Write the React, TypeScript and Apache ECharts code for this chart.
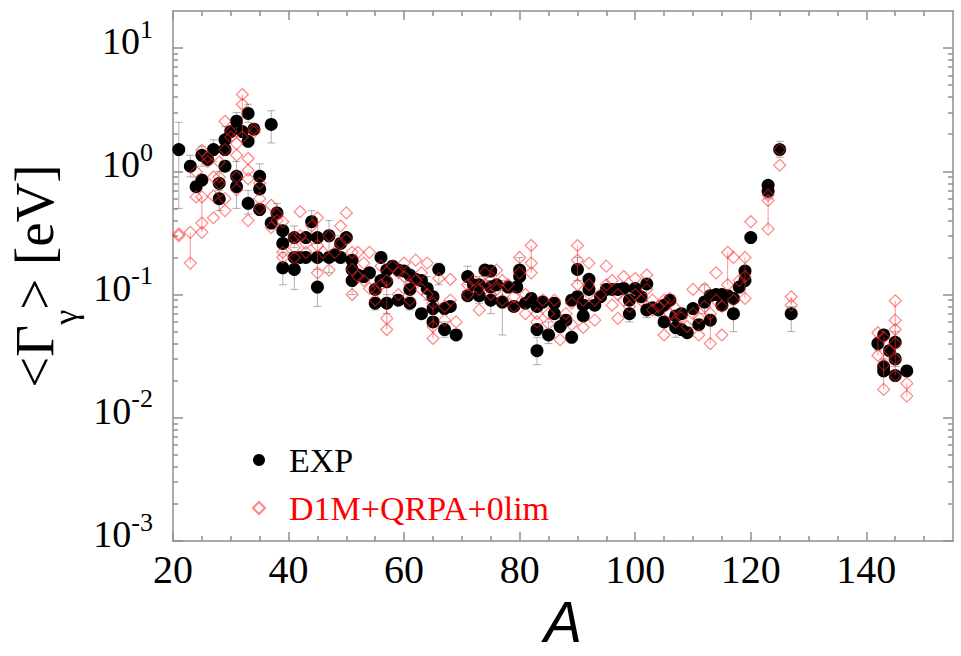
import React, { useEffect, useRef } from 'react';
import * as echarts from 'echarts';

// ---- axis tick positions ----
const xMajorTicks = [20, 40, 60, 80, 100, 120, 140];
const xMinorTicks = [25, 30, 35, 45, 50, 55, 65, 70, 75, 85, 90, 95, 105, 110, 115, 125, 130, 135, 145, 150];
const yDecades = [0.001, 0.01, 0.1, 1, 10];
const yMinorMultipliers = [2, 3, 4, 5, 6, 7, 8, 9];

// ---- EXP: [A, <Gamma_gamma> eV] ----
const expPoints: number[][] = [
  [21, 1.5], [23, 1.1], [24, 0.75], [25, 0.85], [25, 1.35], [26, 1.25], [27, 1.5], [28, 0.8], [28, 0.6],
  [29, 1.8], [29, 1.5], [29, 1.1], [30, 2.1], [31, 2.55], [31, 0.91], [31, 0.75], [32, 2.1], [33, 2.95],
  [33, 1.75], [33, 0.55], [34, 2.2], [35, 0.91], [35, 0.72], [35, 0.49], [37, 2.4], [37, 0.38], [38, 0.46],
  [39, 0.33], [39, 0.26], [39, 0.165], [41, 0.29], [41, 0.2], [41, 0.16], [42, 0.2], [43, 0.29], [43, 0.2],
  [44, 0.39], [45, 0.29], [45, 0.2], [45, 0.115], [47, 0.3], [47, 0.2], [48, 0.21], [49, 0.26], [49, 0.2],
  [50, 0.29], [51, 0.19], [51, 0.16], [51, 0.13], [52, 0.144], [53, 0.14], [54, 0.15], [55, 0.11], [55, 0.085],
  [56, 0.2], [56, 0.13], [57, 0.158], [57, 0.127], [57, 0.085], [58, 0.17], [59, 0.158], [59, 0.09], [60, 0.155],
  [61, 0.144], [61, 0.11], [61, 0.085], [62, 0.133], [63, 0.13], [63, 0.07], [64, 0.112], [65, 0.096], [65, 0.077],
  [65, 0.06], [66, 0.16], [67, 0.077], [67, 0.052], [68, 0.08], [69, 0.047], [71, 0.14], [71, 0.098], [72, 0.12],
  [73, 0.12], [73, 0.098], [74, 0.158], [75, 0.155], [75, 0.115], [75, 0.09], [76, 0.12], [77, 0.087], [78, 0.115],
  [79, 0.08], [79.5, 0.115], [80, 0.158], [80, 0.14], [81, 0.085], [82, 0.093], [83, 0.08], [83, 0.052], [83, 0.035],
  [84, 0.087], [85, 0.047], [86, 0.085], [86, 0.07], [87, 0.055], [88, 0.062], [89, 0.09], [89, 0.045], [90, 0.16],
  [90, 0.096], [91, 0.082], [91, 0.067], [92, 0.133], [92, 0.11], [93, 0.082], [94, 0.096], [95, 0.11], [96, 0.11],
  [97, 0.11], [98, 0.112], [99, 0.09], [99, 0.07], [100, 0.112], [101, 0.096], [102, 0.122], [102, 0.075], [103, 0.078],
  [104, 0.075], [105, 0.082], [105, 0.06], [106, 0.09], [107, 0.067], [107, 0.054], [108, 0.07], [108, 0.052],
  [109, 0.049], [110, 0.077], [111, 0.057], [112, 0.087], [113, 0.098], [113, 0.062], [114, 0.1], [115, 0.1],
  [115, 0.082], [116, 0.098], [117, 0.07], [117, 0.093], [118, 0.115], [119, 0.155], [119, 0.13], [120, 0.29],
  [123, 0.77], [123, 0.69], [125, 1.5], [127, 0.07], [142, 0.04], [143, 0.047], [143, 0.026], [143, 0.024],
  [144, 0.035], [145, 0.041], [145, 0.03], [145, 0.022], [147, 0.024],
];

// ---- EXP error bars: [A, low, high] ----
const expErrors: number[][] = [
  [21, 0.5, 2.5], [23, 0.9, 1.35], [25, 1.1, 1.6], [27, 1.2, 1.8], [28, 0.65, 1.0], [28, 0.48, 0.7], [29, 1.4, 2.3],
  [31, 2.1, 3.0], [31, 0.5, 1.2], [33, 2.5, 3.5], [33, 0.45, 0.7], [35, 0.75, 1.15], [37, 1.7, 3.1], [38, 0.37, 0.55],
  [39, 0.12, 0.22], [41, 0.24, 0.36], [41, 0.11, 0.2], [44, 0.3, 0.48], [45, 0.08, 0.16], [47, 0.15, 0.4],
  [49, 0.18, 0.3], [51, 0.1, 0.16], [55, 0.075, 0.14], [57, 0.07, 0.1], [61, 0.075, 0.14], [64, 0.09, 0.14],
  [66, 0.12, 0.18], [67, 0.045, 0.06], [71, 0.12, 0.17], [73, 0.085, 0.14], [75, 0.07, 0.13], [77, 0.047, 0.13],
  [80, 0.13, 0.2], [83, 0.027, 0.045], [85, 0.04, 0.06], [90, 0.13, 0.2], [92, 0.09, 0.14], [99, 0.06, 0.12],
  [102, 0.065, 0.13], [107, 0.045, 0.07], [112, 0.07, 0.12], [117, 0.05, 0.1], [123, 0.6, 0.8], [125, 1.3, 1.75],
  [127, 0.05, 0.08], [142, 0.035, 0.045], [143, 0.022, 0.03], [145, 0.026, 0.05],
];

// ---- D1M+QRPA+0lim: [A, <Gamma_gamma> eV] ----
const theoryPoints: number[][] = [
  [21, 0.31], [21, 0.3], [23, 0.32], [23, 0.18], [24, 0.99], [24, 0.62], [25, 1.48], [25, 0.62], [25, 0.38],
  [25, 0.32], [26, 1.3], [26, 1.2], [27, 0.9], [27, 0.63], [27, 0.42], [28, 1.19], [28, 0.9], [28, 0.8],
  [29, 2.55], [29, 1.5], [29, 0.6], [29, 0.48], [30, 1.9], [30, 2.1], [31, 1.68], [31, 1.35], [31, 0.71], [31, 0.9],
  [32, 4.2], [32, 3.5], [32, 1.9], [33, 1.27], [33, 1.02], [33, 0.87], [33, 0.4], [34, 2.08], [34, 2.2],
  [35, 0.8], [35, 0.6], [35, 0.5], [37, 0.53], [37, 0.35], [38, 0.45], [38, 0.4], [39, 0.39], [39, 0.22], [39, 0.2],
  [41, 0.29], [41, 0.24], [41, 0.2], [42, 0.47], [42, 0.3], [43, 0.26], [43, 0.22], [44, 0.36], [45, 0.42],
  [45, 0.25], [45, 0.15], [46, 0.22], [47, 0.3], [47, 0.158], [48, 0.22], [49, 0.36], [49, 0.26], [50, 0.46],
  [50, 0.28], [51, 0.22], [51, 0.1], [51, 0.16], [52, 0.22], [52, 0.14], [53, 0.18], [53, 0.13], [54, 0.22],
  [54, 0.112], [55, 0.11], [55, 0.09], [56, 0.12], [56, 0.17], [57, 0.064], [57, 0.052], [57, 0.13], [58, 0.17],
  [59, 0.15], [59, 0.1], [60, 0.18], [60, 0.14], [61, 0.12], [61, 0.09], [62, 0.19], [62, 0.13], [63, 0.15],
  [63, 0.11], [64, 0.18], [64, 0.1], [65, 0.055], [65, 0.044], [65, 0.085], [66, 0.135], [67, 0.062], [67, 0.08],
  [68, 0.133], [68, 0.09], [69, 0.06], [71, 0.12], [71, 0.1], [72, 0.13], [73, 0.075], [73, 0.11], [74, 0.15],
  [74, 0.12], [75, 0.13], [75, 0.1], [76, 0.158], [76, 0.11], [77, 0.13], [77, 0.09], [78, 0.12], [79, 0.096],
  [79, 0.08], [80, 0.2], [80, 0.15], [81, 0.07], [81, 0.1], [82, 0.25], [82, 0.18], [82, 0.15], [83, 0.07],
  [83, 0.06], [84, 0.09], [85, 0.058], [85, 0.07], [86, 0.09], [87, 0.043], [88, 0.07], [89, 0.057], [89, 0.085],
  [90, 0.25], [90, 0.19], [90, 0.12], [91, 0.054], [91, 0.09], [92, 0.18], [92, 0.12], [93, 0.062], [93, 0.09],
  [94, 0.1], [95, 0.17], [95, 0.12], [96, 0.082], [96, 0.13], [97, 0.064], [97, 0.1], [98, 0.14], [98, 0.09],
  [99, 0.08], [100, 0.135], [100, 0.1], [101, 0.09], [102, 0.144], [102, 0.11], [103, 0.09], [103, 0.075],
  [104, 0.08], [105, 0.047], [105, 0.09], [106, 0.093], [106, 0.07], [107, 0.077], [107, 0.06], [108, 0.065],
  [109, 0.055], [110, 0.11], [110, 0.07], [111, 0.047], [111, 0.065], [112, 0.112], [112, 0.08], [113, 0.04],
  [113, 0.07], [114, 0.15], [114, 0.09], [115, 0.047], [115, 0.08], [116, 0.22], [116, 0.12], [117, 0.2],
  [117, 0.09], [118, 0.13], [119, 0.2], [119, 0.093], [119, 0.14], [120, 0.39], [123, 0.64], [123, 0.58],
  [123, 0.34], [125, 1.12], [125, 1.5], [127, 0.096], [127, 0.082], [142, 0.049], [142, 0.032], [143, 0.027],
  [143, 0.017], [143, 0.045], [144, 0.035], [145, 0.089], [145, 0.062], [145, 0.052], [145, 0.03], [145, 0.022],
  [145, 0.04], [147, 0.019], [147, 0.015],
];

// ---- D1M range lines: [A, low, high] ----
const theoryRanges: number[][] = [
  [23, 0.18, 0.32], [25, 0.32, 0.62], [32, 1.9, 4.2], [45, 0.15, 0.42], [57, 0.052, 0.13], [65, 0.044, 0.085],
  [82, 0.15, 0.25], [90, 0.12, 0.25], [113, 0.04, 0.07], [116, 0.12, 0.22], [119, 0.093, 0.2], [123, 0.34, 0.64],
  [127, 0.082, 0.096], [142, 0.032, 0.049], [143, 0.017, 0.045], [145, 0.022, 0.089], [147, 0.015, 0.019],
];

const SERIF = '"Liberation Serif", "Times New Roman", serif';
const AXIS_GREY = '#8f8f8f';

const yMinorTicks: number[] = [];
yDecades.forEach((d) => yMinorMultipliers.forEach((m) => { if (d * m < 20) yMinorTicks.push(d * m); }));

const makeBarRenderer = (color: string, cap: number) => (_params: any, api: any) => {
  const a = api.value(0);
  const lo = api.value(1);
  const hi = api.value(2);
  const p1 = api.coord([a, lo]);
  const p2 = api.coord([a, hi]);
  const style = { stroke: color, lineWidth: 1 };
  const children: any[] = [
    { type: 'line', shape: { x1: p1[0], y1: p1[1], x2: p2[0], y2: p2[1] }, style },
  ];
  if (cap > 0) {
    children.push({ type: 'line', shape: { x1: p1[0] - cap, y1: p1[1], x2: p1[0] + cap, y2: p1[1] }, style });
    children.push({ type: 'line', shape: { x1: p2[0] - cap, y1: p2[1], x2: p2[0] + cap, y2: p2[1] }, style });
  }
  return { type: 'group', children };
};

export default function App() {
  const ref = useRef<HTMLDivElement>(null);
  useEffect(() => {
    if (!ref.current) return;
    const chart = echarts.init(ref.current, null, { renderer: 'svg' });
    const xBase = { type: 'value', min: 20, max: 155, splitLine: { show: false } };
    const yBase = { type: 'log', logBase: 10, min: 0.001, max: 20, splitLine: { show: false } };
    const lineStyle = { color: AXIS_GREY, width: 1.5 };
    const option: any = {
      animation: false,
      backgroundColor: '#fff',
      grid: { left: 173, right: 8, top: 11, bottom: 115, containLabel: false, outerBoundsMode: 'none' },
      legend: {
        orient: 'vertical',
        left: 247,
        top: 438,
        itemWidth: 12,
        itemHeight: 12,
        itemGap: 14,
        selectedMode: false,
        data: [
          { name: 'EXP', textStyle: { color: '#000' } },
          { name: 'D1M+QRPA+0lim', textStyle: { color: '#ff0000' } },
        ],
        textStyle: { fontFamily: SERIF, fontSize: 34, lineHeight: 34, padding: [0, 0, 0, 19] },
      },
      xAxis: [
        {
          ...xBase,
          position: 'bottom',
          axisLine: { show: true, lineStyle },
          axisTick: { show: true, inside: true, length: 9, customValues: xMajorTicks, lineStyle },
          axisLabel: {
            show: true, customValues: xMajorTicks, fontFamily: SERIF, fontSize: 40, color: '#000', margin: 8,
          },
          name: 'A',
          nameLocation: 'middle',
          nameGap: 43,
          nameTextStyle: {
            fontFamily: '"Liberation Sans", Arial, sans-serif', fontStyle: 'italic', fontSize: 57,
            lineHeight: 52, color: '#000',
          },
        },
        {
          ...xBase, position: 'bottom',
          axisLine: { show: false },
          axisTick: { show: true, inside: true, length: 5, customValues: xMinorTicks, lineStyle },
          axisLabel: { show: false },
        },
        {
          ...xBase, position: 'top',
          axisLine: { show: true, lineStyle },
          axisTick: { show: true, inside: true, length: 9, customValues: xMajorTicks, lineStyle },
          axisLabel: { show: false },
        },
        {
          ...xBase, position: 'top',
          axisLine: { show: false },
          axisTick: { show: true, inside: true, length: 5, customValues: xMinorTicks, lineStyle },
          axisLabel: { show: false },
        },
      ],
      yAxis: [
        {
          ...yBase,
          position: 'left',
          axisLine: { show: true, lineStyle },
          axisTick: { show: true, inside: true, length: 10, customValues: yDecades, lineStyle },
          axisLabel: {
            show: true,
            customValues: yDecades,
            margin: 20,
            padding: [0, 0, 20, 0],
            formatter: (v: number) => `{b|10}{s|${Math.round(Math.log10(v))}}`,
            rich: {
              b: { fontFamily: SERIF, fontSize: 38, color: '#000', lineHeight: 44, verticalAlign: 'bottom' },
              s: { fontFamily: SERIF, fontSize: 26, color: '#000', lineHeight: 26, verticalAlign: 'top' },
            },
          },
          name: '{a|<Γ}{sub|γ}{a|> [eV]}',
          nameLocation: 'middle',
          nameRotate: 90,
          nameGap: 90,
          nameTextStyle: {
            rich: {
              a: { fontFamily: SERIF, fontSize: 55, color: '#000', lineHeight: 96 },
              sub: { fontFamily: SERIF, fontSize: 34, color: '#000', lineHeight: 34, verticalAlign: 'bottom' },
            },
          },
        },
        {
          ...yBase, position: 'left',
          axisLine: { show: false },
          axisTick: { show: true, inside: true, length: 5, customValues: yMinorTicks, lineStyle },
          axisLabel: { show: false },
        },
        {
          ...yBase, position: 'right',
          axisLine: { show: true, lineStyle },
          axisTick: { show: true, inside: true, length: 10, customValues: yDecades, lineStyle },
          axisLabel: { show: false },
        },
        {
          ...yBase, position: 'right',
          axisLine: { show: false },
          axisTick: { show: true, inside: true, length: 5, customValues: yMinorTicks, lineStyle },
          axisLabel: { show: false },
        },
      ],
      series: [
        {
          type: 'custom', name: 'EXP errors', silent: true, z: 1,
          renderItem: makeBarRenderer('rgba(110,110,110,0.55)', 4),
          encode: { x: 0, y: [1, 2] },
          data: expErrors,
        },
        {
          type: 'scatter', name: 'EXP', z: 2,
          symbol: 'circle', symbolSize: 13,
          itemStyle: { color: '#000', opacity: 1 },
          data: expPoints,
        },
        {
          type: 'custom', name: 'D1M ranges', silent: true, z: 3,
          renderItem: makeBarRenderer('rgba(255,60,60,0.55)', 0),
          encode: { x: 0, y: [1, 2] },
          data: theoryRanges,
        },
        {
          type: 'scatter', name: 'D1M+QRPA+0lim', z: 4,
          symbol: 'diamond', symbolSize: 12,
          itemStyle: { color: 'rgba(255,255,255,0)', borderColor: 'rgba(255,40,40,0.7)', borderWidth: 1.2 },
          data: theoryPoints,
        },
      ],
    };
    chart.setOption(option);
    return () => chart.dispose();
  }, []);
  return (
    <div
      ref={ref}
      style={{ position: 'fixed', left: 0, top: 0, width: 961, height: 656, background: '#fff' }}
    />
  );
}
